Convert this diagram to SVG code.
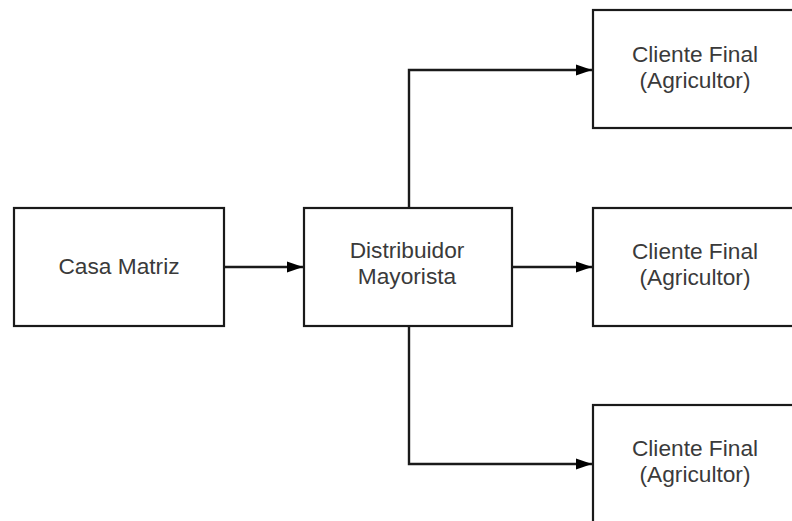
<svg xmlns="http://www.w3.org/2000/svg" width="792" height="521" viewBox="0 0 792 521">
<style>
.box{fill:#fff;stroke:#1a1a1a;stroke-width:2.2}
.t{font-family:"Liberation Sans",Arial,sans-serif;font-size:22.7px;fill:#3a3a3a;text-anchor:middle}
.c{fill:none;stroke:#1a1a1a;stroke-width:2.4}
</style>
<defs>
<marker id="ah" markerUnits="userSpaceOnUse" markerWidth="18" markerHeight="14" refX="16" refY="7" orient="auto">
<path d="M0,1.5 L16,7 L0,12.5 Z" fill="#000"/>
</marker>
</defs>
<rect width="792" height="521" fill="#fff"/>
<g id="casa-matriz">
<rect class="box" x="14" y="208" width="210" height="118"/>
<text class="t" x="119" y="274">Casa Matriz</text>
</g>
<g id="distribuidor">
<rect class="box" x="304" y="208" width="208" height="118"/>
<text class="t" x="407" y="258">Distribuidor</text>
<text class="t" x="407" y="284">Mayorista</text>
</g>
<g id="cliente-1">
<rect class="box" x="593" y="10" width="210" height="118"/>
<text class="t" x="695" y="62">Cliente Final</text>
<text class="t" x="695" y="88">(Agricultor)</text>
</g>
<g id="cliente-2">
<rect class="box" x="593" y="208" width="210" height="118"/>
<text class="t" x="695" y="259">Cliente Final</text>
<text class="t" x="695" y="285">(Agricultor)</text>
</g>
<g id="cliente-3">
<rect class="box" x="593" y="405" width="210" height="118"/>
<text class="t" x="695" y="456">Cliente Final</text>
<text class="t" x="695" y="482">(Agricultor)</text>
</g>
<g id="connectors">
<path class="c" d="M224,267 H303" marker-end="url(#ah)"/>
<path class="c" d="M512,267 H592" marker-end="url(#ah)"/>
<path class="c" d="M409,208 V70 H592" marker-end="url(#ah)"/>
<path class="c" d="M409,326 V464 H592" marker-end="url(#ah)"/>
</g>
</svg>
